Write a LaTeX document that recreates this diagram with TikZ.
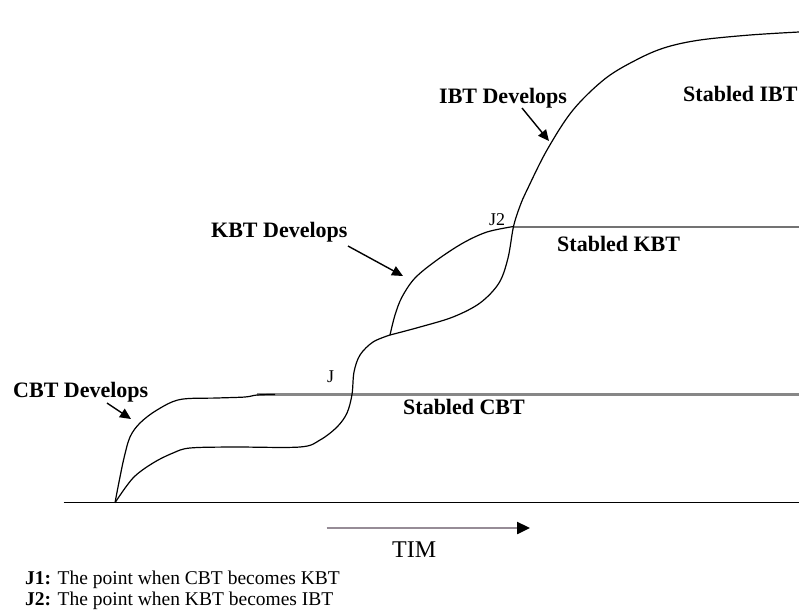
\documentclass[tikz,border=0pt]{standalone}
\usepackage{fontspec}
\setmainfont{Liberation Serif}
\usetikzlibrary{arrows.meta}

\definecolor{stablegray}{RGB}{135,135,135}
\definecolor{timgray}{RGB}{150,140,150}

\tikzset{
  lbl/.style={font=\bfseries\fontsize{22}{26}\selectfont, inner sep=0pt, anchor=base west},
  jlbl/.style={font=\fontsize{18}{20}\selectfont, inner sep=0pt, anchor=base west},
  legend/.style={font=\fontsize{19.5}{21}\selectfont, inner sep=0pt, anchor=base west},
  curve/.style={line width=1.2pt, smooth, tension=0.55},
  pointer/.style={line width=1.4pt, -{Triangle[length=11pt,width=10pt]}},
  stableline/.style={line width=2.4pt, stablegray}
}

\begin{document}
\begin{tikzpicture}[x=1pt,y=-1pt]
        \useasboundingbox (0,0) rectangle (799,611);

        % key points
        \coordinate (origin) at (115,502.7);
        \coordinate (jone) at (352,394.4);
        \coordinate (split) at (390,335);
        \coordinate (jtwo) at (513.5,226.5);

        % time axis
        \coordinate (axisl) at (63.7,502.7);
        \coordinate (axisr) at (799,502.7);
        \draw[line width=1.5pt] (axisl) -- (axisr);

        % stable levels
        \coordinate (cbtend) at (799,394.4);
        \coordinate (cbtstart) at (257,394.4);
        \draw[stableline] (cbtstart) -- (cbtend);
        \coordinate (kbtend) at (799,226.5);
        \draw[stableline, black!55, line width=2pt] (jtwo) -- (kbtend);

        % CBT curve
        \draw[curve] plot coordinates {(origin) (119,482) (124,458) (130,437) (140,423) (157,410) (180,399.5) (217,398) (245,397) (257,395) (275,394.4)};
        % curve up to the split
        \draw[curve] plot coordinates {(origin) (133,478) (153,463) (173,453) (190,448) (233,447) (300,447) (320,440) (337,427) (347,413) (jone) (354,372) (360,355) (373,342) (split)};
        % KBT upper branch
        \draw[curve] plot coordinates {(split) (395,315) (402,297) (415,278) (437,260) (463,243) (487,232) (jtwo)};
        % lower branch and IBT curve
        \draw[curve] plot coordinates {(split) (420,327) (453,317) (480,303) (499,283) (508,258) (jtwo) (520,206) (527,190) (547,150) (573,110) (606,78) (640,58) (667,47) (700,40) (750,35) (799,32)};

        % labels
        \node[lbl] (cbt) at (13,397) {CBT Develops};
        \node[lbl] (kbt) at (211,237) {KBT Develops};
        \node[lbl] (ibt) at (439,103.5) {IBT Develops};
        \node[lbl] (scbt) at (403,414) {Stabled CBT};
        \node[lbl] (skbt) at (557,251.5) {Stabled KBT};
        \node[lbl] (sibt) at (683,101) {Stabled IBT};
        \node[jlbl] (jonelbl) at (327,382) {J};
        \node[jlbl] (jtwolbl) at (489,225) {J2};

        % pointers
        \coordinate (cbtfrom) at (107,403);
        \coordinate (cbtto) at (131,419);
        \draw[pointer] (cbtfrom) -- (cbtto);
        \coordinate (kbtfrom) at (348,246);
        \coordinate (kbtto) at (403,276);
        \draw[pointer] (kbtfrom) -- (kbtto);
        \coordinate (ibtfrom) at (522,108);
        \coordinate (ibtto) at (549,141);
        \draw[pointer] (ibtfrom) -- (ibtto);

        % time arrow
        \coordinate (timfrom) at (326.5,528);
        \coordinate (timto) at (530,528);
        \draw[line width=2.4pt, timgray, -{Triangle[length=13pt,width=12pt,color=black]}] (timfrom) -- (timto);
        \node[font=\fontsize{24}{26}\selectfont, inner sep=0pt, anchor=base west] (tim) at (392,557) {TIM};

        % legend
        \node[legend] (jonetxt) at (25,584.5) {\textbf{J1:} The point when CBT becomes KBT};
        \node[legend] (jtwotxt) at (25,605.5) {\textbf{J2:} The point when KBT becomes IBT};
        
    \end{tikzpicture}
\end{document}
